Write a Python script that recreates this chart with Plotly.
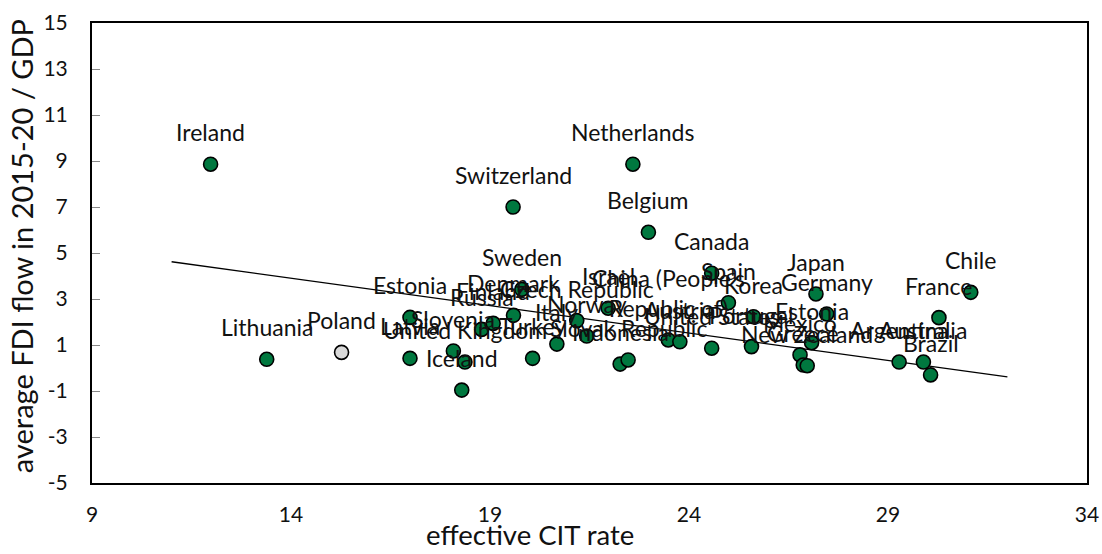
import plotly.graph_objects as go

# ---- data ----
countries = ["Ireland", "Lithuania", "Estonia", "Latvia", "Slovenia", "Iceland",
             "United Kingdom", "Russia", "Finland", "Switzerland", "Denmark", "Sweden",
             "Turkey", "Italy", "Czech Republic", "Norway", "Israel", "Indonesia",
             "Slovak Republic", "Netherlands", "Belgium", "China (People's<br>Republic of)",
             "Austria", "Canada", "United States", "Spain", "Portugal", "Korea",
             "Mexico", "Greece", "New Zealand", "Estonia", "Japan", "Germany",
             "Argentina", "Australia", "Brazil", "France", "Chile"]
cit_rate = [11.98, 13.39, 16.99, 16.99, 18.08, 18.29,
            18.37, 18.79, 19.08, 19.58, 19.59, 19.80,
            20.07, 20.68, 21.18, 21.43, 21.97, 22.27,
            22.47, 22.59, 22.98, 23.48,
            23.77, 24.57, 24.57, 24.99, 25.57, 25.62,
            26.79, 26.87, 26.97, 27.08, 27.19, 27.46,
            29.28, 29.89, 30.07, 30.28, 31.08]
fdi_flow = [8.86, 0.38, 2.20, 0.42, 0.74, -0.96,
            0.26, 1.68, 1.94, 7.00, 2.29, 3.42,
            0.42, 1.04, 2.06, 1.39, 2.60, 0.17,
            0.35, 8.86, 5.90, 1.22,
            1.14, 4.12, 0.86, 2.84, 0.93, 2.23,
            0.57, 0.13, 0.10, 1.10, 3.22, 2.35,
            0.26, 0.26, -0.30, 2.19, 3.29]

highlight_country = ["Poland"]
highlight_cit = [15.27]
highlight_fdi = [0.68]

trend_x = [11.0, 32.0]
trend_y = [4.62, -0.39]

x_ticks = [9, 14, 19, 24, 29, 34]
y_ticks = [-5, -3, -1, 1, 3, 5, 7, 9, 11, 13, 15]

x_title = "effective CIT rate"
y_title = "average FDI flow in 2015-20 / GDP"

FONT = "Lato"
GREEN = "#00783F"
GREY = "#D9D9D9"
TXT = "#111111"

fig = go.Figure()

fig.add_trace(go.Scatter(
    x=trend_x, y=trend_y, mode="lines",
    line=dict(color="black", width=1.3), hoverinfo="skip", showlegend=False))

fig.add_trace(go.Scatter(
    x=cit_rate, y=fdi_flow, mode="markers", text=countries,
    marker=dict(size=14, color=GREEN, line=dict(color="black", width=1.6)),
    showlegend=False))

fig.add_trace(go.Scatter(
    x=highlight_cit, y=highlight_fdi, mode="markers", text=highlight_country,
    marker=dict(size=14, color=GREY, line=dict(color="black", width=1.6)),
    showlegend=False))

annotations = []
for name, xv, yv in list(zip(countries, cit_rate, fdi_flow)) + \
        list(zip(highlight_country, highlight_cit, highlight_fdi)):
    annotations.append(dict(
        x=xv, y=yv, xref="x", yref="y", text=name, showarrow=False,
        xanchor="center", yanchor="bottom", yshift=16,
        font=dict(family=FONT, size=23, color=TXT)))

# axis titles as annotations (x title sits left of centre, as in the reference)
annotations.append(dict(
    x=0.44, y=-0.112, xref="paper", yref="paper", text=x_title, showarrow=False,
    xanchor="center", yanchor="middle",
    font=dict(family=FONT, size=27.5, color=TXT)))
annotations.append(dict(
    x=-0.0713, y=0.515, xref="paper", yref="paper", text=y_title, showarrow=False,
    xanchor="center", yanchor="middle", textangle=-90,
    font=dict(family=FONT, size=29, color=TXT)))

fig.update_layout(
    width=1102, height=554,
    margin=dict(l=92, r=15, t=23, b=71, pad=0),
    paper_bgcolor="white", plot_bgcolor="white",
    font=dict(family=FONT, size=21, color=TXT),
    annotations=annotations,
    xaxis=dict(
        range=[9, 34], tickvals=x_ticks, ticktext=[str(v) for v in x_ticks],
        showgrid=False, zeroline=False, showline=True, mirror=True,
        linecolor="black", linewidth=2, ticks="", ticklabelstandoff=12,
        automargin=False,
        tickfont=dict(family=FONT, size=21, color=TXT)),
    yaxis=dict(
        range=[-5, 15], tickvals=y_ticks, ticktext=[str(v) for v in y_ticks],
        showgrid=False, zeroline=False, showline=True, mirror=True,
        linecolor="black", linewidth=2, ticks="inside", ticklen=8,
        tickcolor="#888888", tickwidth=1, ticklabelstandoff=18,
        automargin=False,
        tickfont=dict(family=FONT, size=21, color=TXT)),
)

fig.write_html("out.html",
               config={"displayModeBar": False},
               post_script="document.body.style.margin='0';"
                           "document.body.style.overflow='hidden';")
